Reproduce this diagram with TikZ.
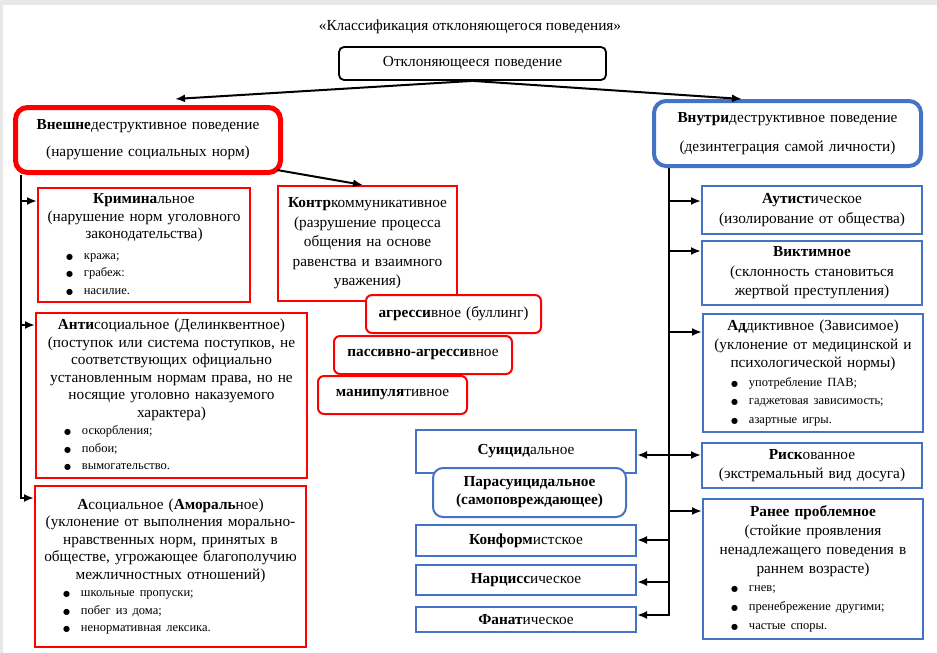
\documentclass[tikz,border=0pt]{standalone}
\usepackage{fontspec}
\setmainfont{Liberation Serif}
\newfontfamily\dotfont{DejaVu Sans}
\definecolor{red_c}{RGB}{255,0,0}
\definecolor{blue_c}{RGB}{68,114,196}
\definecolor{gray_c}{RGB}{232,232,232}
\usetikzlibrary{arrows.meta,
                positioning,
                calc}
\newcommand{\bul}[1]{\makebox[\linewidth][l]{\hspace*{28pt}{\dotfont\fontsize{8}{17}\selectfont ●}\hspace{11pt}{\fontsize{12.5}{17}\selectfont#1}}}

\begin{document}
\begin{tikzpicture}[
			x=1pt, y=-1pt,
			box/.style = {draw, fill=white, inner sep=0pt, align=center,
				font=\fontsize{15.3}{17.5}\selectfont},
			sz/.style 2 args = {text width=#1, minimum height=#2},
			redbox/.style = {box, draw=red_c, line width=2pt},
			bluebox/.style = {box, draw=blue_c, line width=2pt,
				font=\fontsize{15.3}{19.5}\selectfont},
			redtab/.style = {redbox, rounded corners=6pt},
			line/.style = {line width=2pt},
			arr/.style = {line, -{Latex[length=10pt,width=8pt]}},
			]
			% page
			\useasboundingbox (0,0) rectangle (937,653);
			\fill[gray_c] (0,0) rectangle (937,653);
			\fill[white] (3,5) rectangle (937,653);
			% title
			\node[font=\fontsize{15.3}{17.5}\selectfont] (title) at (470,27) {«Классификация отклоняющегося поведения»};
			\node[box, sz={267pt}{33pt}, line width=1.8pt, rounded corners=5pt] (top) at (472.5,63.5) {Отклоняющееся поведение};
			% main branches
			\node[box, sz={265pt}{65pt}, draw=red_c, line width=5pt, rounded corners=12pt,
				font=\fontsize{15.3}{27}\selectfont] (Lbig) at (148,140)
				{\textbf{Внешне}деструктивное поведение\\(нарушение социальных норм)};
			\node[box, sz={267pt}{65pt}, draw=blue_c, line width=4pt, rounded corners=12pt,
				font=\fontsize{15.3}{29}\selectfont] (Rbig) at (787.5,133.5)
				{\textbf{Внутри}деструктивное поведение\\(дезинтеграция самой личности)};
			% red boxes
			\node[redbox, sz={212pt}{114pt}] (Krim) at (144,244.5)
				{\textbf{Кримина}льное\\(нарушение норм уголовного\\законодательства)\\[3pt]
				\bul{кража;}\\\bul{грабеж:}\\\bul{насилие.}};
			\node[redbox, sz={179pt}{115pt}, font=\fontsize{15.3}{19.5}\selectfont] (Kontr) at (367.5,243.5)
				{\textbf{Контр}коммуникативное\\(разрушение процесса\\общения на основе\\равенства и взаимного\\уважения)};
			\node[redtab, sz={175pt}{38pt}] (Agr) at (453.5,314) {\textbf{агресси}вное (буллинг)};
			\node[redtab, sz={178pt}{38pt}] (Pass) at (423,355) {\textbf{пассивно-агресси}вное};
			\node[redtab, sz={149pt}{38pt}] (Manip) at (392.5,395) {\textbf{манипуля}тивное};
			\node[redbox, sz={271pt}{165pt}] (Anti) at (171.5,395)
				{\textbf{Анти}социальное (Делинквентное)\\(поступок или система поступков, не\\соответствующих официально\\установленным нормам права, но не\\носящие уголовно наказуемого\\характера)\\
				\bul{оскорбления;}\\\bul{побои;}\\\bul{вымогательство.}};
			\node[redbox, sz={271pt}{161pt}] (Asoc) at (170.5,566.5)
				{\textbf{А}социальное (\textbf{Амораль}ное)\\(уклонение от выполнения морально-\\нравственных норм, принятых в\\обществе, угрожающее благополучию\\межличностных отношений)\\
				\bul{школьные пропуски;}\\\bul{побег из дома;}\\\bul{ненормативная лексика.}};
			% blue boxes
			\node[bluebox, sz={220pt}{48pt}] (Aut) at (812,210)
				{\textbf{Аутист}ическое\\(изолирование от общества)};
			\node[bluebox, sz={220pt}{64pt}] (Vikt) at (812,273)
				{\textbf{Виктимное}\\(склонность становиться\\жертвой преступления)};
			\node[bluebox, sz={220pt}{118pt}, font=\fontsize{15.3}{18.5}\selectfont] (Add) at (813,373)
				{\textbf{Ад}диктивное (Зависимое)\\(уклонение от медицинской и\\психологической нормы)\\
				\bul{употребление ПАВ;}\\\bul{гаджетовая зависимость;}\\\bul{азартные игры.}};
			\node[bluebox, sz={220pt}{45pt}] (Risk) at (812,465.5)
				{\textbf{Риск}ованное\\(экстремальный вид досуга)};
			\node[bluebox, sz={220pt}{140pt}, font=\fontsize{15.3}{18.8}\selectfont] (Ranee) at (813,569)
				{\textbf{Ранее проблемное}\\(стойкие проявления\\ненадлежащего поведения в\\раннем возрасте)\\
				\bul{гнев;}\\\bul{пренебрежение другими;}\\\bul{частые споры.}};
			\node[bluebox, sz={220pt}{43pt}] (Suic) at (526,451.5) {\textbf{Суицид}альное};
			\node[bluebox, sz={193pt}{49pt}, rounded corners=10pt, font=\fontsize{15.3}{18}\selectfont] (Para) at (529.5,492.5)
				{\textbf{Парасуицидальное}\\\textbf{(самоповреждающее)}};
			\node[bluebox, sz={220pt}{31pt}] (Konf) at (526,540.5) {\textbf{Конформ}истское};
			\node[bluebox, sz={220pt}{30pt}] (Narc) at (526,580) {\textbf{Нарцисс}ическое};
			\node[bluebox, sz={220pt}{25pt}] (Fanat) at (526,619.5) {\textbf{Фанат}ическое};
			% trunks
			\coordinate (la) at (21,201);
			\coordinate (lb) at (21,325);
			\coordinate (lc) at (21,498);
			\coordinate (ra) at (669,201);
			\coordinate (rb) at (669,251);
			\coordinate (rc) at (669,332);
			\coordinate (rd) at (669,455);
			\coordinate (re) at (669,511);
			\coordinate (rf) at (669,540);
			\coordinate (rg) at (669,582);
			\coordinate (rh) at (669,615);
			% edges
			\draw[arr] (top.south) -- ([xshift=27pt,yshift=6pt]Lbig.north);
			\draw[arr] (top.south) -- ([xshift=-45.5pt]Rbig.north);
			\draw[arr] ([xshift=-6pt,yshift=5pt]Lbig.south east) -- ([xshift=-4.5pt]Kontr.north);
			\draw[arr] (Lbig.south -| lc) -- (lc) -- (lc -| Asoc.west);
			\draw[arr] (la) -- (la -| Krim.west);
			\draw[arr] (lb) -- (lb -| Anti.west);
			\draw[arr] (Rbig.south -| rh) -- (rh) -- (rh -| Fanat.east);
			\draw[arr] (ra) -- (ra -| Aut.west);
			\draw[arr] (rb) -- (rb -| Vikt.west);
			\draw[arr] (rc) -- (rc -| Add.west);
			\draw[arr] (rd) -- (rd -| Risk.west);
			\draw[arr] (rd) -- (rd -| Suic.east);
			\draw[arr] (re) -- (re -| Ranee.west);
			\draw[arr] (rf) -- (rf -| Konf.east);
			\draw[arr] (rg) -- (rg -| Narc.east);
\end{tikzpicture}
\end{document}
